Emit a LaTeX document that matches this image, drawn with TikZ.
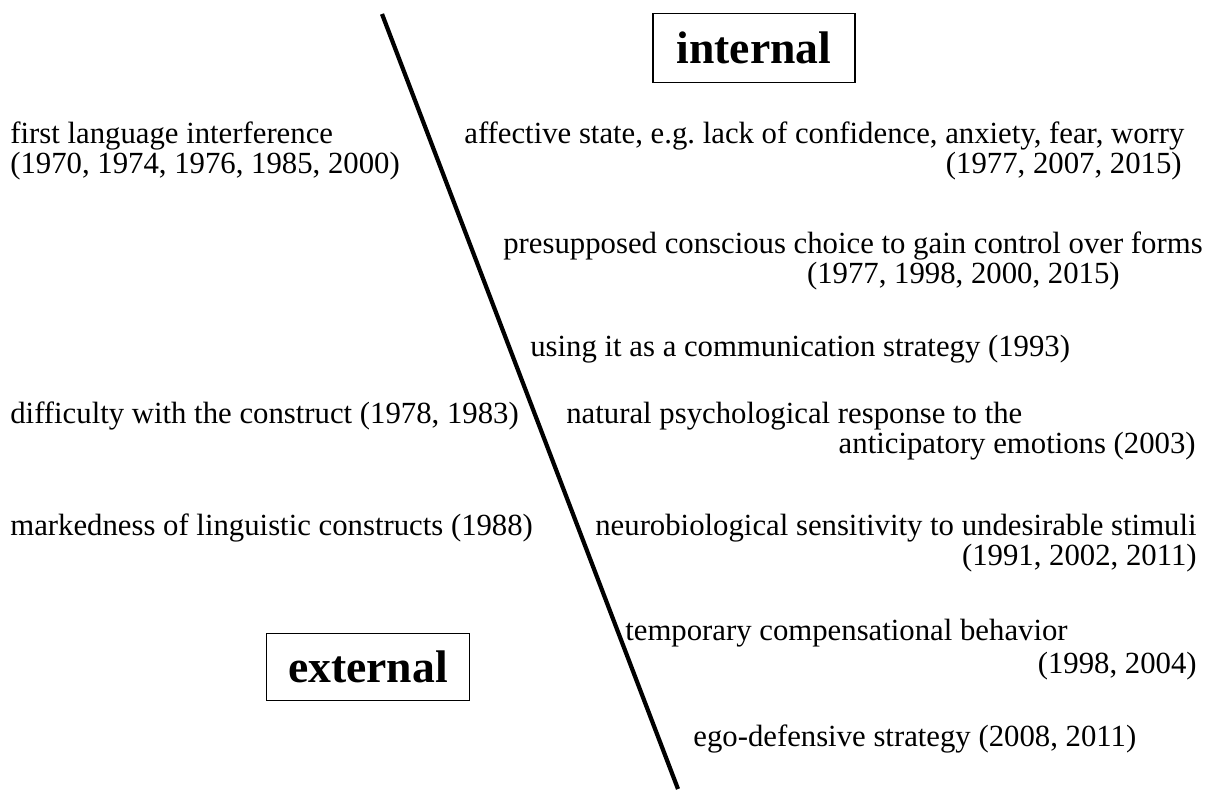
\documentclass[tikz,border=0pt]{standalone}
\usepackage{fontspec}
\setmainfont{Liberation Serif}
\usetikzlibrary{positioning}
\tikzset{txt/.style={inner sep=0pt,font=\fontsize{17.5}{21}\selectfont}}
\tikzset{lbl/.style={draw,thick,inner xsep=8pt,font=\fontsize{26}{30}\selectfont\bfseries}}

\begin{document}
\frenchspacing
\begin{tikzpicture}[x=0.02cm,y=-0.02cm]
\useasboundingbox (0,0) rectangle (1209,789);

\coordinate (top) at (382,14);
\coordinate (bot) at (678,789);
\draw[line width=2.4pt] (top) -- (bot);

\node[lbl,minimum width=202*0.02cm,minimum height=69*0.02cm] (int) at (754,48) {internal};
\node[lbl,minimum width=203*0.02cm,minimum height=67*0.02cm] (ext) at (368,667) {external};

% left side
\node[txt,anchor=base west] (l1) at (10,143) {first language interference};
\node[txt,anchor=base west] (l1b) at (10,173) {(1970, 1974, 1976, 1985, 2000)};
\node[txt,anchor=base west] (l2) at (10,423) {difficulty with the construct (1978, 1983)};
\node[txt,anchor=base west] (l3) at (10,535) {markedness of linguistic constructs (1988)};

% right side
\node[txt,anchor=base west] (r1) at (464,143) {affective state, e.g. lack of confidence, anxiety, fear, worry};
\node[txt,anchor=base east] (r1b) at (1182,173) {(1977, 2007, 2015)};
\node[txt,anchor=base west] (r2) at (503,253) {presupposed conscious choice to gain control over forms};
\node[txt,anchor=base east] (r2b) at (1120,283) {(1977, 1998, 2000, 2015)};
\node[txt,anchor=base west] (r3) at (530,356) {using it as a communication strategy (1993)};
\node[txt,anchor=base west] (r4) at (566,423) {natural psychological response to the};
\node[txt,anchor=base east] (r4b) at (1196,453) {anticipatory emotions (2003)};
\node[txt,anchor=base west] (r5) at (595,535) {neurobiological sensitivity to undesirable stimuli};
\node[txt,anchor=base east] (r5b) at (1197,565) {(1991, 2002, 2011)};
\node[txt,anchor=base west] (r6) at (625,640) {temporary compensational behavior};
\node[txt,anchor=base east] (r6b) at (1197,673) {(1998, 2004)};
\node[txt,anchor=base west] (r7) at (693,746) {ego-defensive strategy (2008, 2011)};
\end{tikzpicture}
\end{document}
